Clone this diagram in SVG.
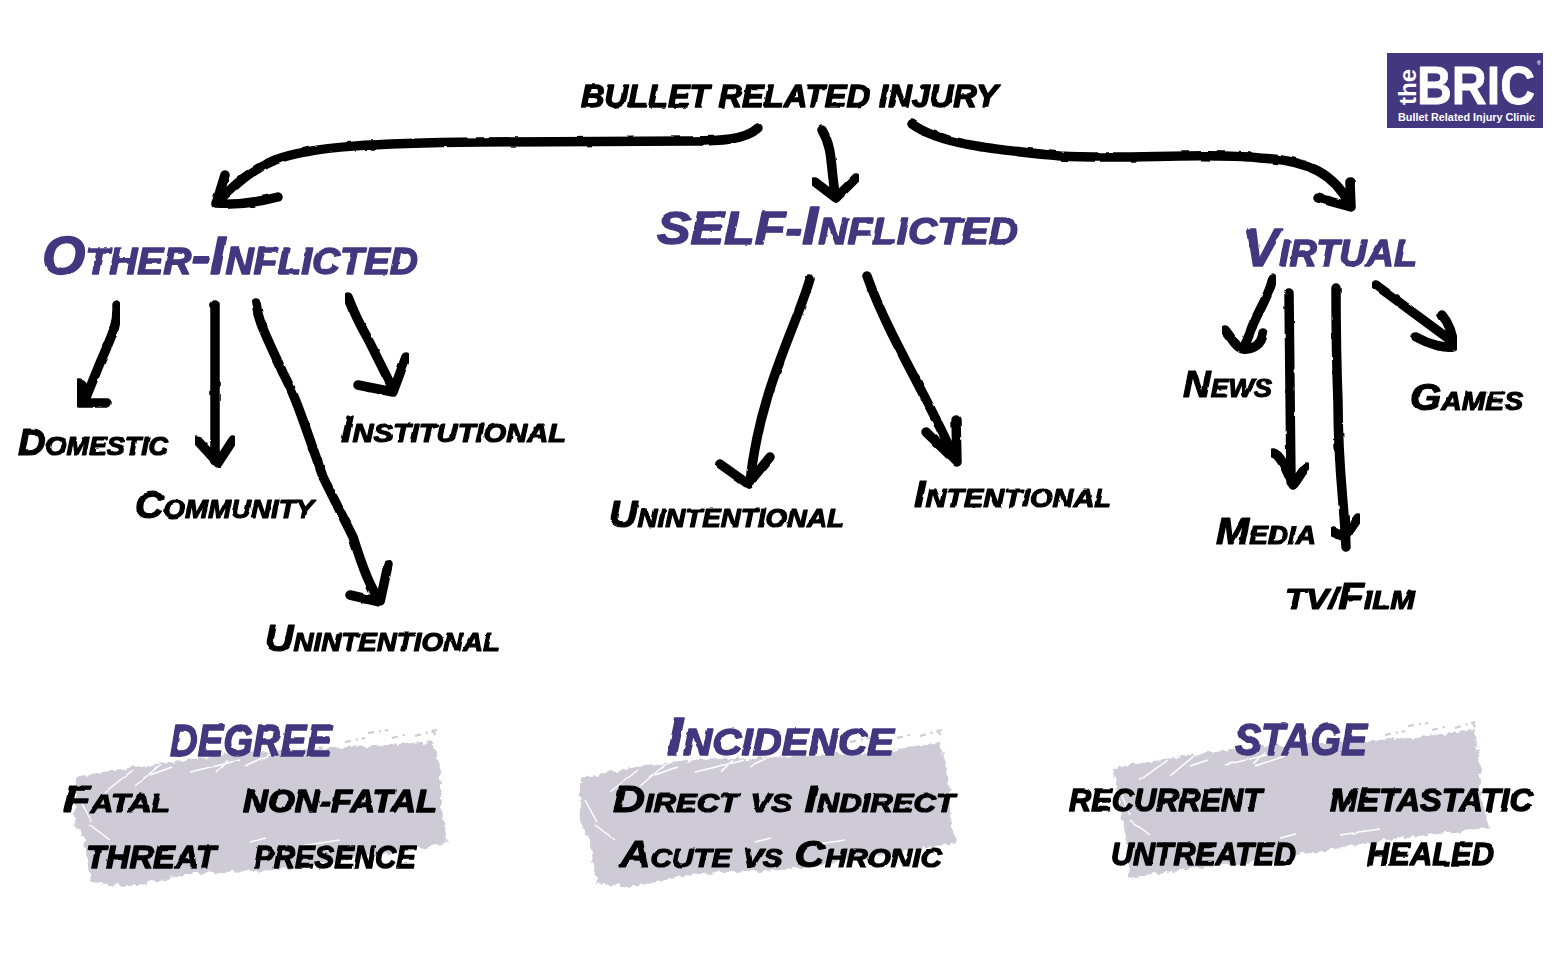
<svg xmlns="http://www.w3.org/2000/svg" width="1562" height="972" viewBox="0 0 1562 972">
<style>
text{font-family:"Liberation Sans",Arial,sans-serif;font-weight:bold;font-style:italic;font-variant:small-caps;stroke-linejoin:round}
.h{fill:#43377f;stroke:#43377f;stroke-width:1.4;font-size:53px;filter:url(#wob)}
.t{fill:#000;stroke:#000;stroke-width:1.2;font-size:37px;filter:url(#wob)}
.c{fill:#000;stroke:#000;stroke-width:1.4;font-size:32px;filter:url(#wob)}
.s{fill:#43377f;stroke:#43377f;stroke-width:1.4;font-size:44px;filter:url(#wob)}
.brush{fill:#cfcbd6;filter:url(#rough)}
.fleck{fill:none;stroke:#cfcbd6;stroke-width:2.2;stroke-dasharray:6 5 2 4}
.scr{fill:none;stroke:#fff;stroke-width:1.5;filter:url(#wob)}
.a{fill:none;stroke:#000;stroke-width:9.5;stroke-linecap:round;stroke-linejoin:round;filter:url(#wob)}
.logo{fill:#fff;font-style:normal;font-variant:normal}
</style>
<defs>
<filter id="wob" x="-5%" y="-20%" width="110%" height="140%"><feTurbulence type="fractalNoise" baseFrequency="0.07" numOctaves="2" seed="3"/><feDisplacementMap in="SourceGraphic" scale="2.4" xChannelSelector="R" yChannelSelector="G"/></filter>
<filter id="rough" x="-5%" y="-10%" width="110%" height="120%"><feTurbulence type="fractalNoise" baseFrequency="0.14" numOctaves="3" seed="8"/><feDisplacementMap in="SourceGraphic" scale="8" xChannelSelector="R" yChannelSelector="G"/></filter>
</defs>
<rect width="1562" height="972" fill="#fff"/>
<g id="brushes">
<path class="brush" d="M75 777L132 767 190 760 245 752 375 746 433 741 441 775 441 808 449 843 365 857 278 870 195 873 125 887 92 883 85 843 75 823Z"/>
<path class="fleck" d="M345 742l20-4M368 733l20-3M392 738l16-4M415 736l22-6M432 730l6 8"/>
<path class="scr" d="M105 792l28-22M135 786l26-22M150 775l22-8M190 772l50-12M228 760l-12 12M245 766l30-14M90 825l20 15M80 800l12 22M250 842l16-4M300 846l40-6"/>
<path class="brush" d="M580 778L637 767 695 760 750 758 880 752 940 742 948 777 950 810 955 843 870 857 783 870 700 873 630 887 597 883 590 843 580 823Z"/>
<path class="fleck" d="M850 742l20-4M873 733l20-3M897 738l16-4M920 736l22-6M937 730l6 8"/>
<path class="scr" d="M610 792l28-22M640 786l26-22M655 775l22-8M695 772l50-12M733 760l-12 12M750 766l30-14M595 825l20 15M585 800l12 22M755 842l16-4M805 846l40-6"/>
<path class="brush" d="M1113 768L1170 758 1230 750 1285 745 1410 738 1474 730 1480 760 1480 795 1490 828 1400 838 1312 853 1295 855 1290 860 1210 866 1165 872 1130 879 1128 850 1122 815Z"/>
<path class="fleck" d="M1385 735l20-4M1408 726l20-3M1432 730l16-4M1455 728l20-6M1472 722l5 8"/>
<path class="scr" d="M1140 780l28-20M1170 776l24-20M1190 766l18-6M1225 765l50-12M1265 752l-12 12M1285 756l-30 10M1130 820l20 15M1122 795l8 20M1280 838l16-4M1340 835l40-6"/>
</g>
<g id="connectors">
<path class="a" d="M758 128C745 140 720 141 690 141L480 142C380 143 310 146 275 160C250 170 235 185 216 203M225 175L216 204C235 205 255 203 278 197"/>
<path class="a" d="M822 130C834 150 830 170 836 198M815 182L836 198 856 178"/>
<path class="a" d="M912 124C940 145 1000 150 1060 156C1130 160 1200 152 1260 158C1310 160 1335 175 1350 205M1318 198L1351 207 1350 182"/>
<path class="a" d="M117 305C118 325 112 335 100 363L85 400M79 383L79 403 107 403M82 385L82 400"/>
<path class="a" d="M215 305L215 460M197 440L218 463 233 440"/>
<path class="a" d="M256 303C258 320 262 327 283 373C295 395 303 420 323 477L353 537C365 575 370 585 380 602M350 595L380 602 388 565"/>
<path class="a" d="M348 297C355 315 360 325 367 337L392 387M358 385L393 392 406 357"/>
<path class="a" d="M810 279C795 330 760 390 750 482M720 464L748 484 770 457"/>
<path class="a" d="M867 276C890 340 930 400 955 460M926 432L957 462 956 420"/>
<path class="a" d="M1273 278C1268 300 1255 315 1250 333L1245 345M1225 330C1232 338 1236 348 1243 349C1252 350 1262 345 1263 333"/>
<path class="a" d="M1289 293L1291 482M1273 453C1282 455 1288 475 1293 485 1298 480 1302 470 1307 467"/>
<path class="a" d="M1336 288C1336 350 1338 403 1338 403C1338 470 1344 500 1346 547M1333 532L1345 537 1358 518"/>
<path class="a" d="M1376 285L1453 342M1416 337C1430 345 1445 348 1453 347C1454 335 1448 322 1442 315"/>
</g>
<g id="root"><text class="c" x="581" y="107" textLength="417" lengthAdjust="spacingAndGlyphs">BULLET RELATED INJURY</text></g>
<g id="other"><text class="h" x="42" y="274" textLength="376" lengthAdjust="spacingAndGlyphs">Other-Inflicted</text></g>
<g id="self"><text class="h" x="657" y="244" textLength="361" lengthAdjust="spacingAndGlyphs"><tspan font-size="46">SELF-</tspan>Inflicted</text></g>
<g id="virtual"><text class="h" x="1243" y="266" textLength="174" lengthAdjust="spacingAndGlyphs">Virtual</text></g>
<g id="domestic"><text class="t" x="18" y="455" textLength="150" lengthAdjust="spacingAndGlyphs">Domestic</text></g>
<g id="community"><text class="t" x="135" y="518" textLength="179" lengthAdjust="spacingAndGlyphs">Community</text></g>
<g id="institutional"><text class="t" x="341" y="442" textLength="225" lengthAdjust="spacingAndGlyphs">Institutional</text></g>
<g id="unintentional1"><text class="t" x="265" y="651" textLength="235" lengthAdjust="spacingAndGlyphs">Unintentional</text></g>
<g id="unintentional2"><text class="t" x="609" y="527" textLength="235" lengthAdjust="spacingAndGlyphs">Unintentional</text></g>
<g id="intentional"><text class="t" x="914" y="507" textLength="198" lengthAdjust="spacingAndGlyphs">Intentional</text></g>
<g id="news"><text class="t" x="1183" y="397" textLength="89" lengthAdjust="spacingAndGlyphs">News</text></g>
<g id="games"><text class="t" x="1410" y="410" textLength="113" lengthAdjust="spacingAndGlyphs">Games</text></g>
<g id="media"><text class="t" x="1216" y="544" textLength="100" lengthAdjust="spacingAndGlyphs">Media</text></g>
<g id="tvfilm"><text class="t" x="1285" y="609" textLength="130" lengthAdjust="spacingAndGlyphs"><tspan font-size="30">TV/</tspan>Film</text></g>
<g id="degree">
<text class="s" x="170" y="756" textLength="162" lengthAdjust="spacingAndGlyphs">DEGREE</text>
<text class="t" x="63" y="812" textLength="107" lengthAdjust="spacingAndGlyphs">Fatal</text>
<text class="c" x="243" y="812" textLength="194" lengthAdjust="spacingAndGlyphs">NON-FATAL</text>
<text class="c" x="86" y="868" textLength="130" lengthAdjust="spacingAndGlyphs">THREAT</text>
<text class="c" x="254" y="868" textLength="162" lengthAdjust="spacingAndGlyphs">PRESENCE</text>
</g>
<g id="incidence">
<text class="h" x="667" y="755" textLength="227" lengthAdjust="spacingAndGlyphs">Incidence</text>
<text class="t" x="613" y="812" textLength="342" lengthAdjust="spacingAndGlyphs">Direct vs Indirect</text>
<text class="t" x="620" y="867" textLength="322" lengthAdjust="spacingAndGlyphs">Acute vs Chronic</text>
</g>
<g id="stage">
<text class="s" x="1235" y="755" textLength="132" lengthAdjust="spacingAndGlyphs">STAGE</text>
<text class="c" x="1069" y="811" textLength="193" lengthAdjust="spacingAndGlyphs">RECURRENT</text>
<text class="c" x="1330" y="811" textLength="203" lengthAdjust="spacingAndGlyphs">METASTATIC</text>
<text class="c" x="1111" y="865" textLength="185" lengthAdjust="spacingAndGlyphs">UNTREATED</text>
<text class="c" x="1367" y="865" textLength="127" lengthAdjust="spacingAndGlyphs">HEALED</text>
</g>
<g id="logo">
<rect x="1387" y="53" width="156" height="75" fill="#43377f"/>
<text class="logo" transform="translate(1416 105) rotate(-90)" font-size="23" textLength="36" lengthAdjust="spacingAndGlyphs">the</text>
<text class="logo" x="1417" y="104" font-size="54" stroke="#fff" stroke-width=".8" textLength="118" lengthAdjust="spacingAndGlyphs">BRIC</text>
<text class="logo" x="1398" y="120.5" font-size="11" textLength="137" lengthAdjust="spacingAndGlyphs">Bullet Related Injury Clinic</text>
<text class="logo" x="1537" y="65" font-size="5">®</text>
</g>
</svg>
